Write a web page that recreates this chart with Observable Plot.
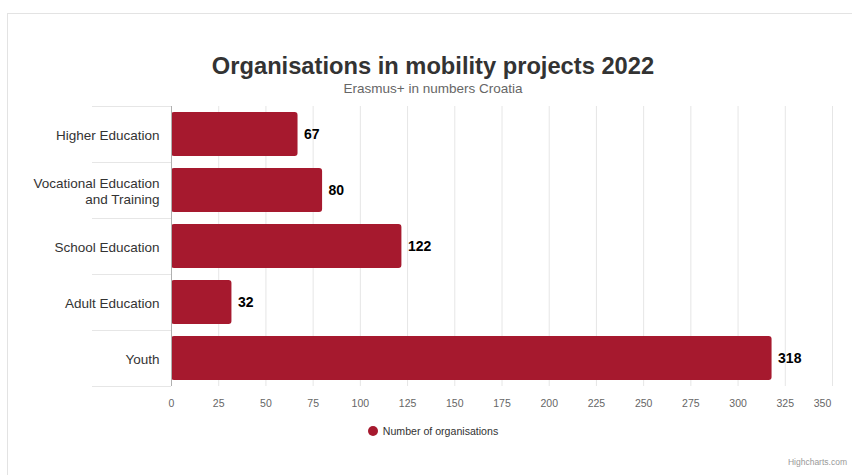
<!DOCTYPE html>
<html>
<head>
<meta charset="utf-8">
<script src="https://cdn.jsdelivr.net/npm/d3@7"></script>
<script src="https://cdn.jsdelivr.net/npm/@observablehq/plot@0.6"></script>
<style>
  html, body { margin: 0; padding: 0; background: #fff; width: 852px; height: 475px; overflow: hidden; }
  body { position: relative; font-family: "Liberation Sans", Arial, Helvetica, sans-serif; }
  #frame { position: absolute; left: 7px; top: 13px; width: 900px; height: 500px; border-top: 1px solid #e3e3e3; border-left: 1px solid #e3e3e3; box-sizing: border-box; }
  #title { position: absolute; left: 8px; width: 850px; top: 52px; text-align: center; font-size: 23.7px; line-height: 28px; font-weight: bold; color: #333; }
  #subtitle { position: absolute; left: 8px; width: 850px; top: 81px; text-align: center; font-size: 13.5px; line-height: 16px; color: #666; }
  #chart { position: absolute; left: 0; top: 96px; }
  #legend { position: absolute; left: 8px; width: 850px; top: 424px; text-align: center; font-size: 10.6px; line-height: 14px; color: #333; }
  #legend .dot { display: inline-block; width: 10px; height: 10px; border-radius: 50%; background: #a6192e; vertical-align: -1px; margin-right: 5px; }
  #credits { position: absolute; right: 5px; top: 457px; font-size: 8.5px; color: #999; }
</style>
</head>
<body>
<div id="frame"></div>
<div id="title">Organisations in mobility projects 2022</div>
<div id="subtitle">Erasmus+ in numbers Croatia</div>
<div id="chart"></div>
<div id="legend"><span class="dot"></span>Number of organisations</div>
<div id="credits">Highcharts.com</div>
<script>
const categories = ["Higher Education", "Vocational Education\nand Training", "School Education", "Adult Education", "Youth"];
const values = [67, 80, 122, 32, 318];
const xTicks = [0, 25, 50, 75, 100, 125, 150, 175, 200, 225, 250, 275, 300, 325, 350];
const seriesName = "Number of organisations";
const barColor = "#a6192e";

const data = categories.map((c, i) => ({category: c, value: values[i]}));

// category separator lines to the left of the axis, derived from the y band scale
function separators(index, scales, values, dimensions) {
  const y = scales.y;
  const step = y.step ? y.step() : (dimensions.height - dimensions.marginTop - dimensions.marginBottom) / categories.length;
  const bw = y.bandwidth ? y.bandwidth() : step * 0.79;
  const x0 = scales.x(0);
  const g = d3.create("svg:g");
  const ys = categories.map(c => y(c) + bw / 2 - step / 2);
  ys.push(y(categories[categories.length - 1]) + bw / 2 + step / 2);
  for (const yy of ys) {
    g.append("line")
      .attr("x1", x0 - 79).attr("x2", x0)
      .attr("y1", Math.round(yy) + 0.5).attr("y2", Math.round(yy) + 0.5)
      .attr("stroke", "#e6e6e6").attr("stroke-width", 1);
  }
  return g.node();
}

const plot = Plot.plot({
  width: 852,
  height: 320,
  marginLeft: 171,
  marginRight: 20,
  marginTop: 10,
  marginBottom: 30,
  style: {fontFamily: "'Liberation Sans', Arial, sans-serif", background: "transparent"},
  x: {domain: [0, 350], axis: null},
  y: {domain: categories, paddingInner: 0.21, paddingOuter: 0.105, axis: null},
  marks: [
    Plot.gridX(xTicks.filter(t => t > 0), {stroke: "#e6e6e6", strokeOpacity: 1}),
    separators,
    Plot.barX(data, {y: "category", x: "value", fill: barColor, rx: 3}),
    Plot.ruleX([0], {stroke: "#b0b0b0", strokeWidth: 1}),
    Plot.axisX(xTicks.filter(t => t < 350), {tickSize: 0, tickPadding: 13, fontSize: 10.5, fill: "#666", anchor: "bottom", label: null}),
    Plot.axisX([350], {tickSize: 0, tickPadding: 13, fontSize: 10.5, fill: "#666", anchor: "bottom", dx: -10, label: null}),
    Plot.axisY(categories, {tickSize: 0, tickPadding: 12, fontSize: 13.5, fill: "#333", lineHeight: 1.18, anchor: "left", label: null}),
    Plot.text(data, {y: "category", x: "value", text: d => String(d.value), dx: 6, textAnchor: "start", fontWeight: "bold", fontSize: 14, fill: "#000"})
  ]
});
document.getElementById("chart").appendChild(plot);
</script>
</body>
</html>
